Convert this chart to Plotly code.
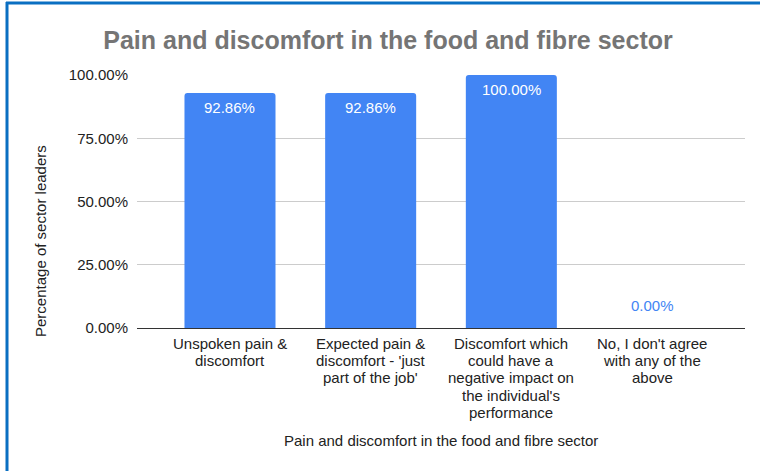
import plotly.graph_objects as go

# Survey results: share of sector leaders who agree with each statement
categories = [
    "Unspoken pain &<br>discomfort",
    "Expected pain &<br>discomfort - 'just<br>part of the job'",
    "Discomfort which<br>could have a<br>negative impact on<br>the individual's<br>performance",
    "No, I don't agree<br>with any of the<br>above",
]
values = [0.9286, 0.9286, 1.0, 0.0]
y_ticks = [0, 0.25, 0.5, 0.75, 1.0]

title_text = "Pain and discomfort in the food and fibre sector"
x_title = "Pain and discomfort in the food and fibre sector"
y_title = "Percentage of sector leaders"

BAR = "#4285F4"
FONT = "Liberation Sans, Arial, sans-serif"
TXT = "#222222"

L, R, T, B = 137, 15, 75, 143
W, H = 760, 471
pw, ph = W - L - R, H - T - B


def px_x(p):
    return (p - L) / pw


def px_y(p):
    return (T + ph - p) / ph


fig = go.Figure(
    go.Bar(
        x=list(range(len(categories))),
        y=values,
        marker=dict(color=BAR, cornerradius=3, line=dict(width=0)),
        width=0.647,
        hoverinfo="skip",
    )
)

# value labels: white inside the bar top, blue above the axis for empty bars
for i, v in enumerate(values):
    label = f"{v * 100:.2f}%"
    if v > 0.05:
        fig.add_annotation(x=i, y=v, text=label, showarrow=False, yanchor="middle",
                           yshift=-14, font=dict(family=FONT, size=15, color="white"))
    else:
        fig.add_annotation(x=i, y=v, text=label, showarrow=False, yanchor="middle",
                           yshift=22.5, font=dict(family=FONT, size=15, color=BAR))

# category labels, one line at a time for tight line spacing
for i, cat in enumerate(categories):
    for k, line in enumerate(cat.split("<br>")):
        fig.add_annotation(x=i, xref="x", yref="paper", y=0, text=line, showarrow=False,
                           xanchor="center", yanchor="middle", yshift=-(15.5 + 17.2 * k),
                           font=dict(family=FONT, size=15, color=TXT))

# axis titles
fig.add_annotation(xref="paper", yref="paper", x=px_x(441), y=px_y(440),
                   text=x_title, showarrow=False, xanchor="center", yanchor="middle",
                   font=dict(family=FONT, size=15, color=TXT))
fig.add_annotation(xref="paper", yref="paper", x=px_x(40), y=px_y(241),
                   text=y_title, showarrow=False, textangle=-90, xanchor="center", yanchor="middle",
                   font=dict(family=FONT, size=15, color=TXT))

# frame lines along the top and left edges
fig.add_shape(type="line", xref="paper", yref="paper", x0=px_x(6), x1=px_x(W + 5),
              y0=px_y(3), y1=px_y(3), line=dict(color="#0a6fc2", width=3))
fig.add_shape(type="line", xref="paper", yref="paper", x0=px_x(7), x1=px_x(7),
              y0=px_y(2), y1=px_y(H + 5), line=dict(color="#0a6fc2", width=3))

fig.update_layout(
    width=W, height=H,
    margin=dict(l=L, r=R, t=T, b=B),
    paper_bgcolor="white", plot_bgcolor="white",
    showlegend=False,
    font=dict(family=FONT, size=15, color=TXT),
    title=dict(text=f"<b>{title_text}</b>", x=388 / W, xanchor="center",
               y=1 - 40 / H, yanchor="middle",
               font=dict(family=FONT, size=25, color="#757575")),
    xaxis=dict(
        range=[-0.661, 3.661],
        tickvals=list(range(len(categories))),
        showticklabels=False,
        showgrid=False, zeroline=False,
        showline=True, linecolor="#333333", linewidth=1,
        ticks="",
        fixedrange=True,
    ),
    yaxis=dict(
        range=[0, 1],
        tickvals=y_ticks,
        tickformat=".2%",
        showgrid=True, gridcolor="#cccccc", gridwidth=1,
        zeroline=False, showline=False,
        ticks="", ticklabelstandoff=8,
        tickfont=dict(family=FONT, size=15, color=TXT),
        fixedrange=True,
    ),
)

fig.write_html("out.html")
